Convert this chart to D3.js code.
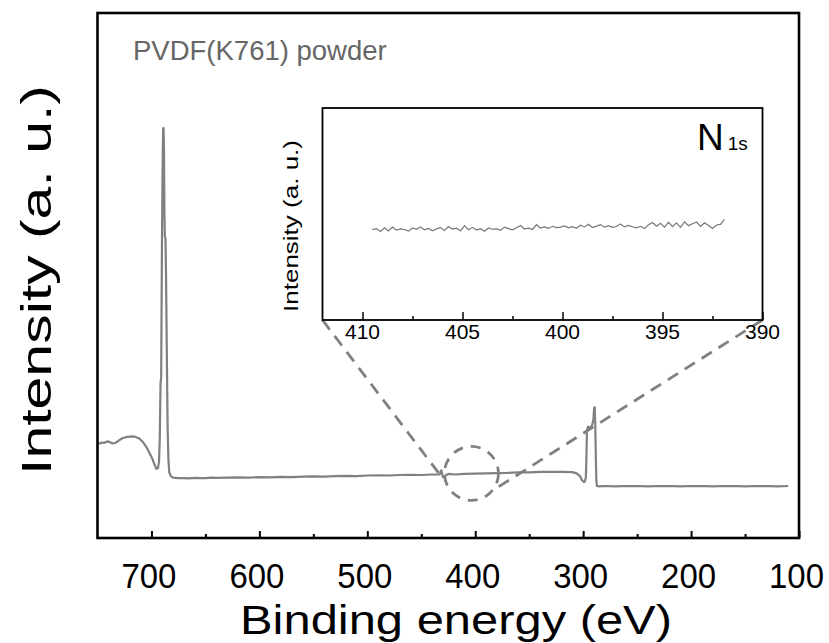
<!DOCTYPE html>
<html><head><meta charset="utf-8">
<script src="https://cdn.jsdelivr.net/npm/d3@7"></script>
<style>body{margin:0;background:#fff}svg{display:block}text{font-family:"Liberation Sans",Arial,sans-serif}</style>
</head><body>
<svg id="c" width="829" height="643"></svg>
<script>
// ---- data ----
const surveyEnergy = [750,748,746,744,742,740,738,736,734,732,730,727,724,720,717,714,711,708,705,702,699,697,695.5,694,693,692.3,691.6,691,690.6,690.2,689.7,689.2,688.8,688.4,688,687.6,687,686.5,686,685.5,685,684.3,683.5,682,680,675,670,665,660,655,650,645,640,630,620,610,600,590,580,570,560,550,540,530,520,510,500,490,480,470,460,450,440,433,431.5,430,425,418,410,400,390,380,370,360,350,340,330,320,310,306,303,301,299.5,298.5,297.5,297,296.5,295.5,294,292,290.5,289.8,289.3,288.8,288.3,287.8,287.2,285,280,270,260,250,240,230,220,210,200,190,180,170,160,150,140,130,120,110,103];
const surveyIntensity = [18.1,18.0,18.2,18.1,18.3,18.4,18.2,18.0,18.1,18.3,18.6,19.0,19.2,19.3,19.35,19.2,18.9,18.3,17.4,16.3,15.0,13.9,13.2,13.3,14.5,19,29.5,30.5,45,58,70,78,78.1,74,62,57.5,57,50,40,30,21,15,12.5,11.8,11.5,11.4,11.4,11.35,11.45,11.4,11.4,11.5,11.45,11.5,11.55,11.5,11.6,11.55,11.65,11.6,11.7,11.75,11.7,11.8,11.85,11.8,11.9,11.95,11.9,12.0,12.05,12.0,12.1,12.1,12.9,11.6,12.2,12.1,12.2,12.25,12.3,12.35,12.4,12.5,12.5,12.6,12.6,12.6,12.55,12.3,11.8,11.0,10.7,10.7,11.5,15,20.5,21.2,21.0,21.3,22.5,24.8,24.9,22,16,11,9.9,9.85,9.9,9.85,9.9,9.9,9.85,9.9,9.9,9.85,9.9,9.9,9.85,9.9,9.9,9.85,9.9,9.9,9.85,9.9];
const xTicks = [700,600,500,400,300,200,100];
const xMinorTicks = [650,550,450,350,250,150];

const insetStart = 409.5, insetStep = 0.2;
const insetIntensity = [42.6,43.1,41.8,43.5,42.0,43.8,42.4,43.0,42.7,41.9,43.4,42.8,43.9,42.5,43.2,42.1,43.0,43.6,42.2,44.1,42.9,43.3,42.0,44.5,42.6,43.7,42.4,43.1,41.9,43.4,42.8,43.0,42.3,43.8,43.1,42.5,43.5,44.6,42.9,43.3,42.7,45.0,43.4,43.9,43.2,44.2,43.6,43.8,44.4,43.5,44.0,43.3,44.7,43.9,45.2,43.6,44.3,45.0,43.8,44.5,43.7,44.1,45.3,43.9,44.6,44.0,43.5,44.2,43.1,44.9,46.0,44.2,45.6,43.8,46.1,44.0,45.8,43.7,46.3,44.5,45.4,46.2,44.1,45.9,44.6,43.2,44.8,45.1,47.5];
const insetEnergy = insetIntensity.map((_, i) => +(insetStart - i * insetStep).toFixed(2));
const insetTicks = [410,405,400,395,390];
const insetMinorTicks = [407.5,402.5,397.5,392.5];

// zoom annotation anchors (in main data units)
const zoomCircle = {e: 403.5, i: 12.3};
const zoomLeftEnd = {e: 430.3, i: 11.4};
const zoomRightEnd = {e: 380.3, i: 9.5};

const titleText = "PVDF(K761) powder";
const xLabel = "Binding energy (eV)";
const yLabel = "Intensity (a. u.)";

// ---- layout ----
const svg = d3.select("#c");
const M = {l: 97.5, r: 799, t: 13, b: 538};
const x = d3.scaleLinear().domain([750, 100]).range([M.l, M.r]);
const y = d3.scaleLinear().domain([0, 100]).range([M.b, M.t]);

const I = {l: 322.5, r: 762.5, t: 108, b: 320};
const xi = d3.scaleLinear().domain([412, 390]).range([I.l, I.r]);
const yi = d3.scaleLinear().domain([0, 100]).range([I.b, I.t]);

const gray = "#808080";

// main spectrum
svg.append("path")
  .datum(surveyEnergy.map((e, k) => [e, surveyIntensity[k]]))
  .attr("fill", "none").attr("stroke", gray).attr("stroke-width", 2.2)
  .attr("stroke-linejoin", "round")
  .attr("d", d3.line().x(d => x(d[0])).y(d => y(d[1])));

// main axis ticks (inward)
const xAxis = svg.append("g").attr("transform", `translate(0,${M.b})`)
  .call(d3.axisBottom(x).tickValues(xTicks).tickSize(-7).tickFormat(""));
xAxis.select(".domain").remove();
xAxis.selectAll("line").attr("stroke", "#000").attr("stroke-width", 2);
const xAxisMinor = svg.append("g").attr("transform", `translate(0,${M.b})`)
  .call(d3.axisBottom(x).tickValues(xMinorTicks).tickSize(-4).tickFormat(""));
xAxisMinor.select(".domain").remove();
xAxisMinor.selectAll("line").attr("stroke", "#000").attr("stroke-width", 2);

svg.append("g").selectAll("text").data(xTicks).join("text")
  .attr("x", d => x(d) - 30).attr("y", 588)
  .attr("font-size", 35).attr("fill", "#000")
  .attr("textLength", 55).attr("lengthAdjust", "spacingAndGlyphs").text(d => d);

// main frame
svg.append("rect").attr("x", M.l).attr("y", M.t).attr("width", M.r - M.l).attr("height", M.b - M.t)
  .attr("fill", "none").attr("stroke", "#000").attr("stroke-width", 2.6);

svg.append("text").attr("x", 240).attr("y", 634)
  .attr("font-size", 40).attr("fill", "#000")
  .attr("textLength", 432).attr("lengthAdjust", "spacingAndGlyphs").text(xLabel);
svg.append("text").attr("transform", `translate(51,475) rotate(-90)`)
  .attr("font-size", 42).attr("fill", "#000")
  .attr("textLength", 390).attr("lengthAdjust", "spacingAndGlyphs").text(yLabel);
svg.append("text").attr("x", 133).attr("y", 60).attr("font-size", 27.5).attr("fill", "#666").text(titleText);

// zoom annotation
const dash = "12,8";
const cx = x(zoomCircle.e), cy = y(zoomCircle.i);
svg.append("circle").attr("cx", cx).attr("cy", cy).attr("r", 27)
  .attr("fill", "none").attr("stroke", gray).attr("stroke-width", 2.8).attr("stroke-dasharray", "10,8");
svg.append("line").attr("x1", xi(412)).attr("y1", yi(0)).attr("x2", x(zoomLeftEnd.e)).attr("y2", y(zoomLeftEnd.i))
  .attr("stroke", gray).attr("stroke-width", 2.8).attr("stroke-dasharray", dash);
svg.append("line").attr("x1", xi(390)).attr("y1", yi(0)).attr("x2", x(zoomRightEnd.e)).attr("y2", y(zoomRightEnd.i))
  .attr("stroke", gray).attr("stroke-width", 2.8).attr("stroke-dasharray", dash);

// inset
svg.append("rect").attr("x", I.l).attr("y", I.t).attr("width", I.r - I.l).attr("height", I.b - I.t)
  .attr("fill", "#fff").attr("stroke", "#000").attr("stroke-width", 1.8);
svg.append("path")
  .datum(insetEnergy.map((e, k) => [e, insetIntensity[k]]))
  .attr("fill", "none").attr("stroke", "#777").attr("stroke-width", 1.2)
  .attr("d", d3.line().x(d => xi(d[0])).y(d => yi(d[1])));
const ia = svg.append("g").attr("transform", `translate(0,${I.b})`)
  .call(d3.axisBottom(xi).tickValues(insetTicks).tickSize(-8).tickFormat(""));
ia.select(".domain").remove();
ia.selectAll("line").attr("stroke", "#000").attr("stroke-width", 1.5);
const iam = svg.append("g").attr("transform", `translate(0,${I.b})`)
  .call(d3.axisBottom(xi).tickValues(insetMinorTicks).tickSize(-4).tickFormat(""));
iam.select(".domain").remove();
iam.selectAll("line").attr("stroke", "#000").attr("stroke-width", 1.5);
svg.append("g").selectAll("text").data(insetTicks).join("text")
  .attr("x", d => xi(d)).attr("y", 339).attr("text-anchor", "middle")
  .attr("font-size", 21).attr("fill", "#000").text(d => d);
svg.append("text").attr("transform", `translate(298,312) rotate(-90)`)
  .attr("font-size", 21).attr("fill", "#000")
  .attr("textLength", 172).attr("lengthAdjust", "spacingAndGlyphs").text(yLabel);
const nt = svg.append("text").attr("x", 697).attr("y", 150).attr("fill", "#000");
nt.append("tspan").attr("font-size", 37).text("N");
nt.append("tspan").attr("font-size", 19).attr("dx", 4).text("1s");
</script>
</body></html>
